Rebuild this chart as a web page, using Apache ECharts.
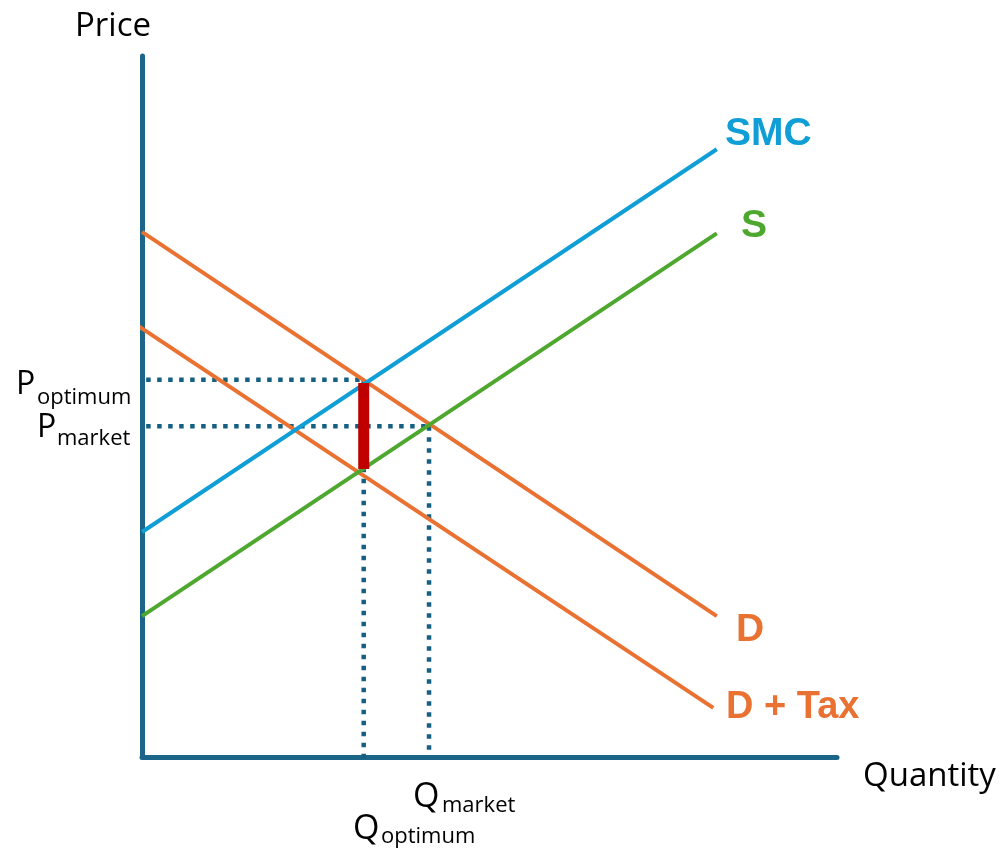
<!DOCTYPE html>
<html><head><meta charset="utf-8">
<script src="https://cdn.jsdelivr.net/npm/echarts@6/dist/echarts.min.js"></script>
<style>html,body{margin:0;padding:0;background:#fff}#c{width:1007px;height:849px}</style>
</head><body><div id="c"></div>
<script>
// Curves: [quantity, price] endpoints (abstract units, axes 0..100)
const smcQ = [0, 82.7],  smcP = [32.1, 86.7];
const sQ = [0, 82.7],    sP = [20.1, 74.7];
const dQ = [0, 82.7],    dP = [74.9, 20.1];
const dTaxQ = [-0.7, 82.2], dTaxP = [61.6, 7.0];
// Equilibria
const qOptimum = 31.9, pOptimum = 53.8;
const qMarket = 41.3, pMarket = 47.2;
// Tax wedge (red bar)
const wedgeP = [41.1, 53.35];

const pts = (qs, ps) => qs.map((q, i) => [q, ps[i]]);
const AX = '#1b6589', DOT = '#156082';
const BLUE = '#0f9ed5', GREEN = '#4ea72e', ORANGE = '#e97132', RED = '#c00000';
const baseLine = (name, data, color, extra) => Object.assign({
  name, type: 'line', data, symbol: 'none', clip: false, silent: true,
  lineStyle: { color, width: 4, cap: 'butt' }
}, extra || {});
const dotted = (data) => ({
  type: 'line', data, symbol: 'none', clip: false, silent: true,
  lineStyle: { color: DOT, width: 4.5, type: [4.5, 6.5], cap: 'butt' }
});

const chart = echarts.init(document.getElementById('c'), null, { renderer: 'canvas' });
const REG = '"Open Sans", sans-serif';
const BOLD = 'bold 39px "Liberation Sans", Arial, sans-serif';
const txt = (text, x, y, font, fill) => ({
  type: 'text', x, y, style: { text, font, fill: fill || '#000', align: 'left', verticalAlign: 'middle' }
});
chart.setOption({
  animation: false,
  grid: { left: 142, right: 170, top: 56, bottom: 92 },
  xAxis: { type: 'value', min: 0, max: 100, axisLine: { show: true, lineStyle: { color: AX, width: 5 } },
    axisTick: { show: false }, axisLabel: { show: false }, splitLine: { show: false } },
  yAxis: { type: 'value', min: 0, max: 100, axisLine: { show: true, lineStyle: { color: AX, width: 5 } },
    axisTick: { show: false }, axisLabel: { show: false }, splitLine: { show: false } },
  series: [
    dotted([[0.6, pOptimum], [qOptimum, pOptimum]]),
    dotted([[0.6, pMarket], [qMarket, pMarket]]),
    dotted([[qOptimum, pOptimum], [qOptimum, -0.6]]),
    dotted([[qMarket, pMarket], [qMarket, 0.5]]),
    baseLine('D', pts(dQ, dP), ORANGE),
    baseLine('D + Tax', pts(dTaxQ, dTaxP), ORANGE),
    baseLine('S', pts(sQ, sP), GREEN),
    baseLine('SMC', pts(smcQ, smcP), BLUE),
    { type: 'line', data: [[qOptimum, wedgeP[0]], [qOptimum, wedgeP[1]]], symbol: 'none', silent: true,
      lineStyle: { color: RED, width: 11, cap: 'butt' } }
  ],
  graphic: [
    txt('Price', 75, 27, '33px ' + REG),
    txt('Quantity', 863, 777, '33px ' + REG),
    txt('SMC', 725, 134, BOLD, BLUE),
    txt('S', 741, 226.5, BOLD, GREEN),
    txt('D', 736, 630, BOLD, ORANGE),
    txt('D + Tax', 726, 708, 'bold 38px "Liberation Sans", Arial, sans-serif', ORANGE),
    txt('P', 16, 385, '32px ' + REG),
    txt('optimum', 37, 398, '22px ' + REG),
    txt('P', 37, 428, '32px ' + REG),
    txt('market', 57, 439, '22px ' + REG),
    txt('Q', 413, 797, '34px ' + REG),
    txt('market', 442, 806, '22px ' + REG),
    txt('Q', 353, 829, '34px ' + REG),
    txt('optimum', 381, 837, '22px ' + REG)
  ]
});
</script></body></html>
